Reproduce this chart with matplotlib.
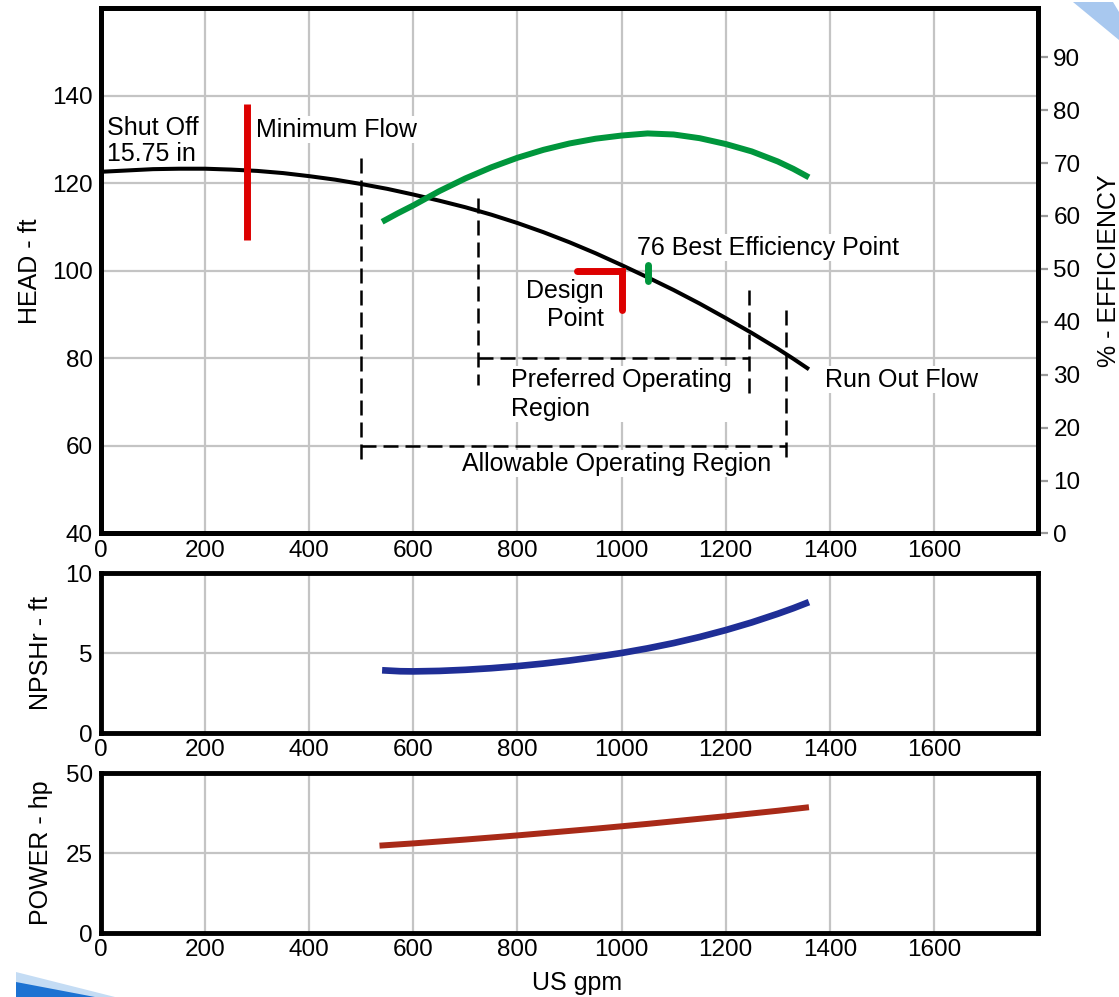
import numpy as np
import matplotlib.pyplot as plt
from matplotlib.patches import Polygon

plt.rcParams['font.family'] = ['Liberation Sans', 'DejaVu Sans']

# ---- data ----
flow_head = [0, 50, 100, 150, 200, 250, 300, 350, 400, 450, 500, 550, 600, 650, 700, 750, 800,
             850, 900, 950, 1000, 1050, 1100, 1150, 1200, 1250, 1300, 1330, 1360]
head = [122.6, 122.9, 123.2, 123.3, 123.3, 123.1, 122.8, 122.3, 121.6, 120.8, 119.8, 118.7, 117.4,
        116.0, 114.5, 112.8, 110.9, 108.8, 106.5, 104.0, 101.3, 98.5, 95.6, 92.5, 89.2, 85.8,
        82.2, 79.9, 77.5]

flow_eff = [540, 570, 600, 650, 700, 750, 800, 850, 900, 950, 1000, 1050, 1100, 1150, 1200,
            1250, 1300, 1330, 1360]
eff = [58.9, 60.5, 62.0, 64.7, 67.1, 69.2, 71.0, 72.5, 73.7, 74.6, 75.2, 75.6, 75.4, 74.7, 73.6,
       72.2, 70.3, 68.9, 67.3]

flow_npsh = [540, 575, 600, 650, 700, 750, 800, 850, 900, 950, 1000, 1050, 1100, 1150, 1200,
             1250, 1300, 1330, 1360]
npsh = [3.92, 3.86, 3.85, 3.88, 3.95, 4.05, 4.18, 4.34, 4.53, 4.75, 5.0, 5.29, 5.62, 6.0, 6.43,
        6.91, 7.45, 7.8, 8.18]

flow_pow = [535, 600, 650, 700, 750, 800, 850, 900, 950, 1000, 1050, 1100, 1150, 1200, 1250,
            1300, 1330, 1360]
power = [27.3, 28.0, 28.6, 29.2, 29.85, 30.5, 31.2, 31.9, 32.6, 33.35, 34.1, 34.9, 35.7, 36.5,
         37.35, 38.2, 38.75, 39.3]

min_flow_x = 280
min_flow_head = [107, 138]
design_x = 1000
design_head = 100
design_left = 915
design_low = 91
bep_x = 1050
bep_head = [97.6, 101.4]

allow_x = [500, 1315]
allow_top = [125.8, 91.1]
allow_head = 60
allow_bottom = 56.6
pref_x = [725, 1245]
pref_top = [116.7, 95.7]
pref_bottom = [73.9, 70.5]
pref_head = 80

x_ticks = list(range(0, 1601, 200))
head_ticks = list(range(40, 141, 20))
eff_ticks = list(range(0, 91, 10))

W, H = 1119, 997
fig = plt.figure(figsize=(W / 100, H / 100), dpi=100)

FS = 18
grid_c = '#c4c4c4'


def frame(ax):
    for s in ax.spines.values():
        s.set_linewidth(3.5)
        s.set_color('black')
    ax.set_xlim(0, 1800)
    ax.set_xticks(x_ticks)
    ax.grid(True, color=grid_c, lw=1.6, zorder=0)
    ax.set_axisbelow(True)
    ax.tick_params(axis='both', length=0, labelsize=17.5)
    ax.tick_params(axis='x', pad=4.5)
    ax.tick_params(axis='y', pad=6)


def fbox(l, t, r, b):
    return [l / W, 1 - b / H, (r - l) / W, (b - t) / H]


# ---- main head / efficiency axes ----
ax = fig.add_axes(fbox(101, 8, 1038, 533.5))
frame(ax)
ax.set_ylim(40, 160)
ax.set_yticks(head_ticks)
ax.set_ylabel('HEAD - ft', fontsize=FS)
ax.yaxis.set_label_coords(-0.063, 0.5)

ax.plot(flow_head, head, color='black', lw=2.9, zorder=4, solid_capstyle='butt')

dash = (0, (6, 2.8))
ax.plot([allow_x[0], allow_x[0]], [allow_top[0], allow_bottom], color='black', lw=1.8, ls=dash, zorder=3)
ax.plot([allow_x[1], allow_x[1]], [allow_top[1], allow_bottom], color='black', lw=1.8, ls=dash, zorder=3)
ax.plot(allow_x, [allow_head, allow_head], color='black', lw=1.8, ls=dash, zorder=3)
ax.plot([pref_x[0], pref_x[0]], [pref_top[0], pref_bottom[0]], color='black', lw=1.8, ls=dash, zorder=3)
ax.plot([pref_x[1], pref_x[1]], [pref_top[1], pref_bottom[1]], color='black', lw=1.8, ls=dash, zorder=3)
ax.plot(pref_x, [pref_head, pref_head], color='black', lw=1.8, ls=dash, zorder=3)

ax.plot([min_flow_x, min_flow_x], min_flow_head, color='#dd0000', lw=5, solid_capstyle='butt', zorder=5)
ax.plot([design_left, design_x, design_x], [design_head, design_head, design_low],
        color='#dd0000', lw=5, solid_capstyle='round', solid_joinstyle='miter', zorder=5)
ax.plot([bep_x, bep_x], bep_head, color='#00963c', lw=5, solid_capstyle='round', zorder=6)

wb = dict(facecolor='white', edgecolor='none', pad=1)
ax.text(12, 129.6, 'Shut Off\n15.75 in', fontsize=FS, va='center', ha='left', linespacing=1.1, zorder=2)
ax.text(297, 132.2, 'Minimum Flow', fontsize=FS, va='center', ha='left', zorder=2, bbox=wb)
ax.text(1029, 105.3, '76 Best Efficiency Point', fontsize=FS, va='center', ha='left', zorder=2, bbox=wb)
ax.text(966, 92.2, 'Design\nPoint', fontsize=FS, va='center', ha='right', multialignment='right',
        linespacing=1.25, zorder=2)
ax.text(788, 71.8, 'Preferred Operating\nRegion', fontsize=FS, va='center', ha='left',
        linespacing=1.25, zorder=2, bbox=wb)
ax.text(693, 55.9, 'Allowable Operating Region', fontsize=FS, va='center', ha='left', zorder=2, bbox=wb)
ax.text(1391, 75.1, 'Run Out Flow', fontsize=FS, va='center', ha='left', zorder=2, bbox=wb)

ax2 = ax.twinx()
ax2.set_ylim(0, 99.3)
ax2.set_yticks(eff_ticks)
ax2.tick_params(axis='y', length=7, width=1.6, color='#9a9a9a', labelsize=17.5, pad=4)
for s in ax2.spines.values():
    s.set_linewidth(3.5)
ax2.set_ylabel('% - EFFICIENCY', fontsize=FS, labelpad=12)
ax2.plot(flow_eff, eff, color='#00963c', lw=4.3, solid_capstyle='butt', zorder=5)

# ---- NPSHr ----
axn = fig.add_axes(fbox(101, 573, 1038, 733))
frame(axn)
axn.set_ylim(0, 10)
axn.set_yticks([0, 5, 10])
axn.set_ylabel('NPSHr - ft', fontsize=FS)
axn.yaxis.set_label_coords(-0.051, 0.5)
axn.plot(flow_npsh, npsh, color='#1f2e96', lw=4.8, solid_capstyle='butt', zorder=4)

# ---- power ----
axp = fig.add_axes(fbox(101, 773, 1038, 933))
frame(axp)
axp.set_ylim(0, 50)
axp.set_yticks([0, 25, 50])
axp.set_ylabel('POWER - hp', fontsize=FS)
axp.yaxis.set_label_coords(-0.051, 0.5)
axp.set_xlabel('US gpm', fontsize=FS)
axp.xaxis.set_label_coords(0.508, -0.24)
axp.plot(flow_pow, power, color='#a82a18', lw=4.3, solid_capstyle='butt', zorder=4)

# slide template corner swooshes
fig.patches.append(Polygon([[1073 / W, 1 - 2 / H], [1113 / W, 1 - 2 / H], [1.0, 1 - 12 / H], [1.0, 1 - 40 / H]],
                           closed=True, transform=fig.transFigure, facecolor='#a8c8ef', edgecolor='none'))
fig.patches.append(Polygon([[16 / W, 1 - 972 / H], [16 / W, 0.0], [115 / W, 0.0]],
                           closed=True, transform=fig.transFigure, facecolor='#c4dcf4', edgecolor='none'))
fig.patches.append(Polygon([[16 / W, 1 - 982 / H], [16 / W, 0.0], [95 / W, 0.0]],
                           closed=True, transform=fig.transFigure, facecolor='#1c72d2', edgecolor='none'))

fig.savefig('out.png', dpi=100)
